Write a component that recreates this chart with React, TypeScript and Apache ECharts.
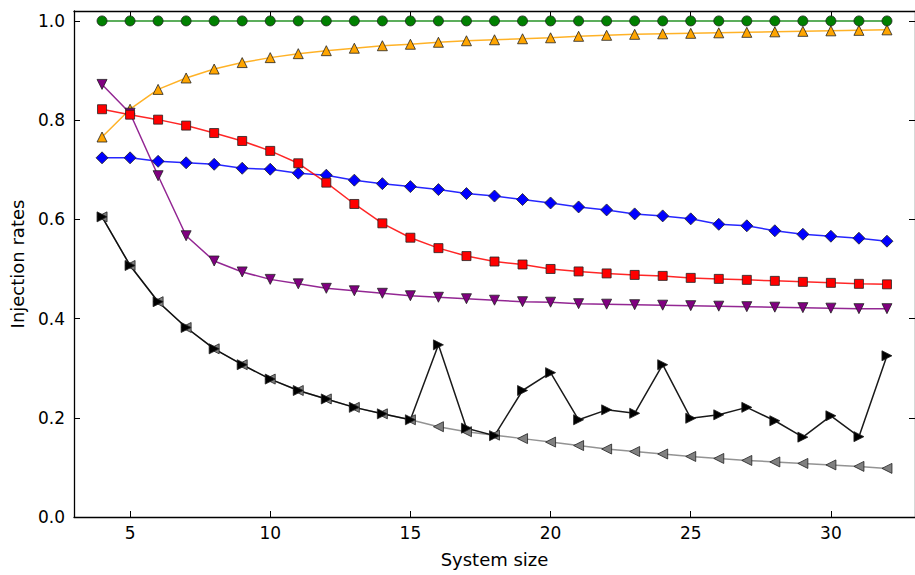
import React, { useEffect, useRef } from "react";
import * as echarts from "echarts";

const sizes = [4, 5, 6, 7, 8, 9, 10, 11, 12, 13, 14, 15, 16, 17, 18, 19, 20, 21, 22, 23, 24, 25, 26, 27, 28, 29, 30, 31, 32];
const xTicks = [5, 10, 15, 20, 25, 30];
const yTicks = [0, 0.2, 0.4, 0.6, 0.8, 1.0];

const greenVals = [1, 1, 1, 1, 1, 1, 1, 1, 1, 1, 1, 1, 1, 1, 1, 1, 1, 1, 1, 1, 1, 1, 1, 1, 1, 1, 1, 1, 1];
const orangeVals = [0.766, 0.822, 0.862, 0.885, 0.903, 0.916, 0.926, 0.934, 0.94, 0.945, 0.95, 0.953, 0.957, 0.96, 0.962, 0.964, 0.966, 0.969, 0.971, 0.973, 0.974, 0.975, 0.976, 0.977, 0.978, 0.979, 0.98, 0.981, 0.982];
const redVals = [0.822, 0.811, 0.801, 0.789, 0.774, 0.758, 0.738, 0.713, 0.674, 0.631, 0.592, 0.563, 0.542, 0.526, 0.515, 0.509, 0.5, 0.495, 0.491, 0.488, 0.486, 0.482, 0.48, 0.478, 0.476, 0.474, 0.472, 0.47, 0.469];
const blueVals = [0.724, 0.724, 0.717, 0.714, 0.711, 0.703, 0.701, 0.693, 0.689, 0.679, 0.672, 0.666, 0.66, 0.652, 0.647, 0.64, 0.633, 0.625, 0.619, 0.611, 0.607, 0.601, 0.59, 0.587, 0.577, 0.57, 0.566, 0.562, 0.556];
const purpleVals = [0.872, 0.814, 0.688, 0.567, 0.516, 0.494, 0.479, 0.47, 0.461, 0.456, 0.451, 0.446, 0.443, 0.44, 0.437, 0.434, 0.433, 0.43, 0.429, 0.428, 0.427, 0.426, 0.425, 0.424, 0.423, 0.422, 0.421, 0.42, 0.42];
const blackVals = [0.605, 0.507, 0.434, 0.382, 0.339, 0.307, 0.278, 0.255, 0.238, 0.221, 0.208, 0.196, 0.347, 0.179, 0.164, 0.255, 0.291, 0.196, 0.216, 0.209, 0.307, 0.199, 0.206, 0.221, 0.194, 0.161, 0.204, 0.162, 0.325];
const grayVals = [0.605, 0.507, 0.434, 0.382, 0.339, 0.307, 0.278, 0.255, 0.238, 0.221, 0.208, 0.196, 0.182, 0.172, 0.165, 0.158, 0.151, 0.144, 0.137, 0.132, 0.127, 0.122, 0.118, 0.114, 0.111, 0.108, 0.105, 0.102, 0.098];

const FONT = "DejaVu Sans";

function pairs(vals: number[]) {
  return sizes.map((x, i) => [x, vals[i]]);
}

function mk(name: string, vals: number[], color: string, symbol: string, size: number, rotate = 0, lineOpacity = 0.85) {
  return {
    name,
    type: "line",
    data: pairs(vals),
    symbol,
    symbolSize: size,
    symbolRotate: rotate,
    showSymbol: true,
    lineStyle: { color, width: 1.5, opacity: lineOpacity },
    itemStyle: { color, borderColor: "#222", borderWidth: 0.8, opacity: 1 },
    emphasis: { disabled: true },
  };
}

export default function App() {
  const ref = useRef<HTMLDivElement>(null);
  useEffect(() => {
    if (!ref.current) return;
    const chart = echarts.init(ref.current, null, { renderer: "svg" });
    const axisCommon = {
      type: "value",
      splitLine: { show: false },
      axisLine: { show: true, onZero: false, lineStyle: { color: "#000", width: 1.3 } },
      axisTick: { show: true, inside: true, length: 6, lineStyle: { color: "#000", width: 1 } },
    };
    chart.setOption({
      animation: false,
      backgroundColor: "#fff",
      grid: { left: 72, right: -7, top: 11, bottom: 58, containLabel: false },
      xAxis: [
        {
          ...axisCommon,
          position: "bottom",
          min: 3,
          max: 33,
          name: "System size",
          nameLocation: "middle",
          nameGap: 33,
          nameTextStyle: { fontFamily: FONT, fontSize: 18, color: "#000" },
          axisTick: { ...axisCommon.axisTick, customValues: xTicks },
          axisLabel: { customValues: xTicks, margin: 7, fontFamily: FONT, fontSize: 17, color: "#000" },
        },
        {
          ...axisCommon,
          position: "top",
          min: 3,
          max: 33,
          axisTick: { ...axisCommon.axisTick, customValues: xTicks },
          axisLabel: { show: false },
        },
      ],
      yAxis: [
        {
          ...axisCommon,
          position: "left",
          min: 0,
          max: 1.02,
          name: "Injection rates",
          nameLocation: "middle",
          nameGap: 48,
          nameRotate: 90,
          nameTextStyle: { fontFamily: FONT, fontSize: 18, color: "#000" },
          axisTick: { ...axisCommon.axisTick, customValues: yTicks },
          axisLabel: {
            customValues: yTicks,
            margin: 9,
            fontFamily: FONT,
            fontSize: 17,
            color: "#000",
            formatter: (v: number) => v.toFixed(1),
          },
        },
        {
          ...axisCommon,
          position: "right",
          min: 0,
          max: 1.02,
          axisTick: { ...axisCommon.axisTick, customValues: yTicks },
          axisLabel: { show: false },
        },
      ],
      series: [
        mk("gray", grayVals, "#808080", "triangle", 10, 90),
        mk("black", blackVals, "#000000", "triangle", 10, -90, 0.9),
        mk("blue", blueVals, "#0000ff", "diamond", 12),
        mk("orange", orangeVals, "#ffa500", "triangle", 10),
        mk("green", greenVals, "#008000", "circle", 10),
        mk("purple", purpleVals, "#800080", "triangle", 10, 180),
        mk("red", redVals, "#ff0000", "rect", 9),
      ],
    });
    return () => chart.dispose();
  }, []);
  return (
    <div
      ref={ref}
      style={{ position: "fixed", left: 0, top: 0, width: 915, height: 575 }}
    />
  );
}
